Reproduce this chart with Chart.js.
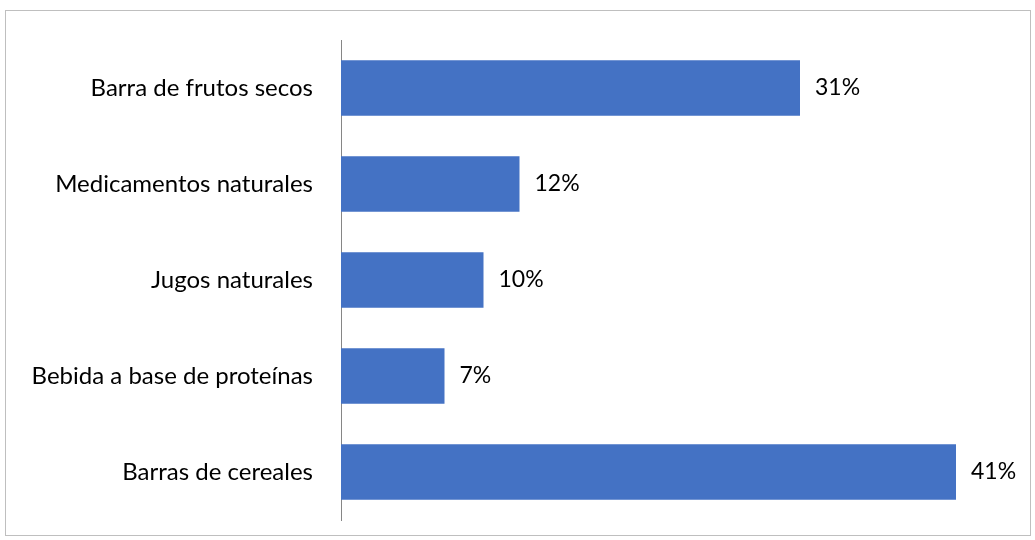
<!DOCTYPE html>
<html>
<head>
<meta charset="utf-8">
<script src="https://cdn.jsdelivr.net/npm/chart.js@4"></script>
<style>
  body { margin: 0; background: #fff; }
  #frame { position: absolute; left: 5px; top: 10px; width: 1024px; height: 524px; border: 1px solid #bfbfbf; }
  #wrap { position: absolute; left: 0; top: 0; width: 1035px; height: 540px; }
  canvas { display: block; }
</style>
</head>
<body>
<div id="frame"></div>
<div id="wrap"><canvas id="myChart" width="1035" height="540"></canvas></div>
<script>
  // data
  const categories = ['Barra de frutos secos', 'Medicamentos naturales', 'Jugos naturales', 'Bebida a base de proteínas', 'Barras de cereales'];
  const shares = [30.6, 11.9, 9.5, 6.9, 41.0];

  const fontFamily = 'Lato, "Open Sans", sans-serif';

  // draws the % next to each bar
  const barLabels = {
      id: 'barLabels',
      afterDatasetsDraw(chart) {
          const ctx = chart.ctx;
          const meta = chart.getDatasetMeta(0);
          ctx.save();
          ctx.font = '23px ' + fontFamily;
          ctx.fillStyle = '#000';
          ctx.textAlign = 'left';
          ctx.textBaseline = 'middle';
          meta.data.forEach((bar, i) => {
              ctx.fillText(Math.round(shares[i]) + '%', bar.x + 15, bar.y);
          });
          ctx.restore();
      }
  };

  const config = {
      type: 'bar',
      data: {
          labels: categories,
          datasets: [{
              data: shares,
              backgroundColor: '#4472c4',
              barPercentage: 0.58,
              categoryPercentage: 1
          }]
      },
      options: {
          indexAxis: 'y',
          responsive: false,
          animation: false,
          layout: { padding: { top: 40, bottom: 20, left: 0, right: 19 } },
          plugins: {
              legend: { display: false },
              tooltip: { enabled: false }
          },
          scales: {
              x: {
                  display: false,
                  min: 0,
                  max: 45
              },
              y: {
                  grid: { display: false },
                  border: { display: true, color: '#868686', width: 1 },
                  ticks: {
                      color: '#000',
                      padding: 20,
                      font: { size: 24, family: fontFamily }
                  },
                  afterFit(scale) {
                      scale.width = 341;
                      scale.paddingTop = 0;
                      scale.paddingBottom = 0;
                  }
              }
          }
      },
      plugins: [barLabels]
  };

  var myChart = new Chart(document.getElementById('myChart'), config);
</script>
</body>
</html>
